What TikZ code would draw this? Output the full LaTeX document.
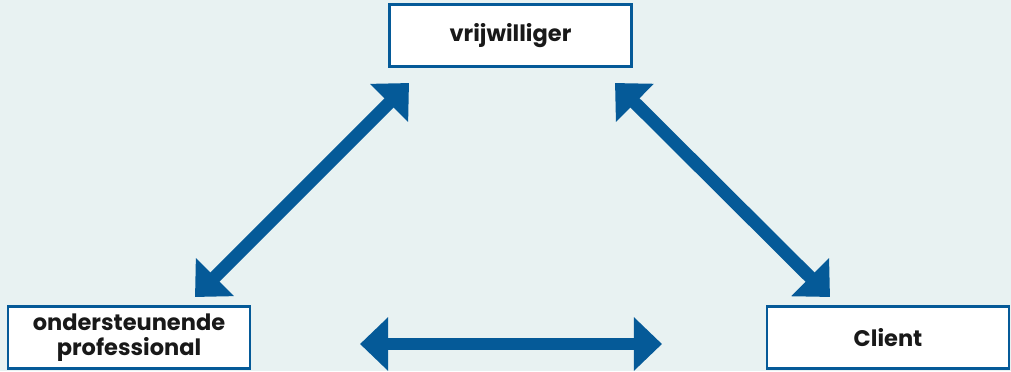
\documentclass[tikz,border=0pt]{standalone}
\usepackage{fontspec}
\setmainfont{Poppins}
\usetikzlibrary{positioning, arrows.meta}
\definecolor{zorgblue}{HTML}{055A98}
\definecolor{zorgbg}{HTML}{E8F2F2}
\tikzstyle{arrow} = [line width=9.2pt, draw=zorgblue, {Triangle[length=20pt,width=37pt]}-{Triangle[length=20pt,width=37pt]}]

\begin{document}
\begin{tikzpicture}[x=0.025cm, y=-0.025cm]
                    \tikzstyle{every node}=[font=\bfseries\fontsize{16}{17.5}\selectfont]
                    \tikzstyle{role} = [rectangle, draw=zorgblue, line width=1.5pt, fill=white, text=black!90, minimum width=6.05cm, minimum height=1.55cm, align=center]

                    \fill[zorgbg] (0,0) rectangle (1011,371);
                    \useasboundingbox (0,0) rectangle (1011,371);

                    \node[role](vrij) at (510.5,35.5) {vrijwilliger};
                    \node[role](prof) at (129,337.5) {ondersteunende\\professional};
                    \node[role](client) at (888,337.5) {Client};

                    % % arrow ends
                    \coordinate (profup) at (195,297);
                    \coordinate (vrijleft) at (409,83);
                    \coordinate (vrijright) at (615,83);
                    \coordinate (clientup) at (830,297);
                    \coordinate (profright) at (360,344);
                    \coordinate (clientleft) at (662,344);

                    \draw[arrow] (profup) -- (vrijleft);
                    \draw[arrow] (vrijright) -- (clientup);
                    \draw[arrow] (profright) -- (clientleft);
\end{tikzpicture}
\end{document}
